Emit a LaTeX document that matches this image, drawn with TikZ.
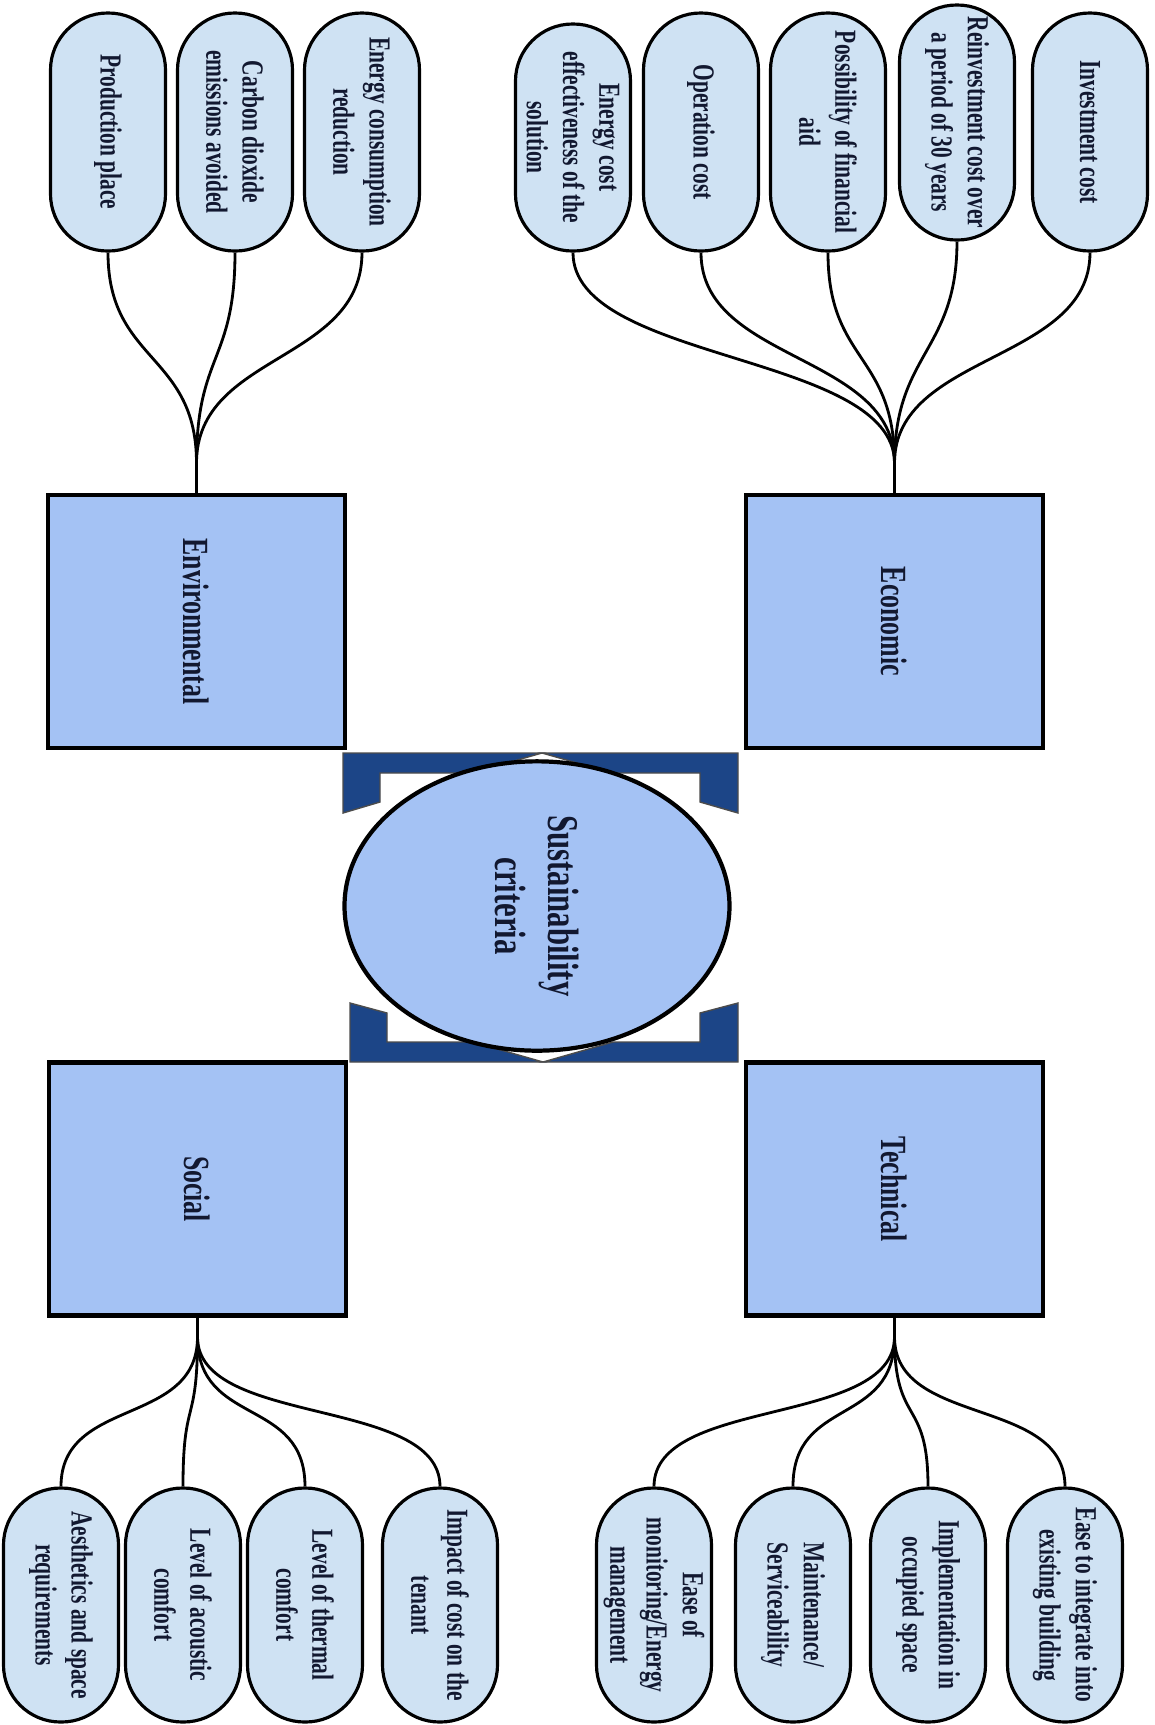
\documentclass[tikz,border=0pt]{standalone}
\usepackage{fontspec}
\setmainfont{Liberation Serif}[FakeStretch=0.7]
\usetikzlibrary{positioning,shapes.geometric}

\newcommand{\crittext}{\bfseries\fontsize{8.7}{10.3}\selectfont}
\newcommand{\dimtext}{\bfseries\fontsize{10.5}{14}\selectfont}
\newcommand{\hubtext}{\bfseries\fontsize{12.5}{15}\selectfont}

\begin{document}
\begin{tikzpicture}[
    rotate=-90,
    transform shape,
    crit/.style={
        draw=black,
        line width=0.9pt,
        fill=critfill,
        rounded corners=0.57cm,
        minimum width=2.38cm,
        minimum height=1.15cm,
        inner xsep=0pt,
        inner ysep=0pt,
        align=center,
        text=inkcol,
        font=\crittext
    },
    dimbox/.style={
        draw=black,
        line width=1.2pt,
        fill=dimfill,
        minimum width=2.53cm,
        minimum height=2.97cm,
        text=inkcol,
        font=\dimtext
    },
    link/.style={line width=0.8pt},
    bracketpart/.style={fill=brackcol, draw=black!70, line width=0.4pt}
]

% ---------------------------------
% Colors
% ---------------------------------
\definecolor{critfill}{RGB}{207,226,243}
\definecolor{dimfill}{RGB}{164,194,244}
\definecolor{brackcol}{RGB}{28,69,135}
\definecolor{inkcol}{RGB}{18,24,48}

\useasboundingbox (0,0) rectangle (17.25,11.55);

% ---------------------------------
% Centre: brackets and circle
% ---------------------------------
\fill[bracketpart] (8.13,3.43) -- (7.53,3.43) -- (7.53,5.42) -- (7.73,4.72) -- (7.73,3.80) -- (8.02,3.80) -- cycle;
\fill[bracketpart] (7.53,5.42) -- (7.53,7.38) -- (8.13,7.38) -- (8.02,7.00) -- (7.73,7.00) -- (7.73,6.12) -- cycle;
\fill[bracketpart] (10.03,3.50) -- (10.62,3.50) -- (10.62,5.43) -- (10.42,4.73) -- (10.42,3.87) -- (10.13,3.87) -- cycle;
\fill[bracketpart] (10.62,5.43) -- (10.62,7.38) -- (10.03,7.38) -- (10.13,7.00) -- (10.42,7.00) -- (10.42,6.13) -- cycle;

\node[ellipse, draw=black, line width=1.2pt, fill=dimfill, minimum width=2.72cm,
      minimum height=3.85cm, align=center, text=inkcol, font=\hubtext] (sust) at (9.06,5.37)
      {Sustainability\\criteria};

% ---------------------------------
% Dimensions
% ---------------------------------
\node[dimbox] (econ) at (6.215,8.945) {Economic};
\node[dimbox] (env)  at (6.215,1.965) {Environmental};
\node[dimbox] (tech) at (11.89,8.945) {Technical};
\node[dimbox] (soc)  at (11.89,1.975) {Social};

% ---------------------------------
% Economic criteria
% ---------------------------------
\node[crit, minimum width=2.27cm] (energycost) at (1.375,5.73) {Energy cost\\effectiveness of the\\solution};
\node[crit] (opcost)   at (1.32,7.01) {Operation cost};
\node[crit] (finaid)   at (1.32,8.28) {Possibility of financial\\aid};
\node[crit, minimum width=2.35cm] (reinvest) at (1.225,9.57) {Reinvestment cost over\\a period of 30 years};
\node[crit] (invest)   at (1.32,10.90) {Investment cost};

% ---------------------------------
% Environmental criteria
% ---------------------------------
\node[crit] (prodplace) at (1.32,1.08) {Production place};
\node[crit] (cotwo)     at (1.32,2.35) {Carbon dioxide\\emissions avoided};
\node[crit] (enred)     at (1.32,3.62) {Energy consumption\\reduction};

% ---------------------------------
% Technical criteria
% ---------------------------------
\node[crit, minimum width=2.34cm] (monit) at (16.05,6.54) {Ease of\\monitoring/Energy\\management};
\node[crit, minimum width=2.34cm] (maint) at (16.05,7.93) {Maintenance/\\Serviceability};
\node[crit, minimum width=2.34cm] (occup) at (16.05,9.28) {Implementation in\\occupied space};
\node[crit, minimum width=2.34cm] (integ) at (16.05,10.65) {Ease to integrate into\\existing building};

% ---------------------------------
% Social criteria
% ---------------------------------
\node[crit, minimum width=2.34cm] (aesth)    at (16.05,0.61) {Aesthetics and space\\requirements};
\node[crit, minimum width=2.34cm] (acoustic) at (16.05,1.83) {Level of acoustic\\comfort};
\node[crit, minimum width=2.34cm] (thermal)  at (16.05,3.05) {Level of thermal\\comfort};
\node[crit, minimum width=2.34cm] (impact)   at (16.05,4.40) {Impact of cost on the\\tenant};

% ---------------------------------
% Connectors
% ---------------------------------
\coordinate (econjoin) at (4.63,8.945);
\coordinate (envjoin)  at (4.63,1.965);
\coordinate (techjoin) at (13.37,8.945);
\coordinate (socjoin)  at (13.37,1.975);

\foreach \n in {energycost,opcost,finaid,reinvest,invest}
    \draw[link] (\n.east) .. controls +(1.1,0) and +(-1.1,0) .. (econjoin);
\foreach \n in {prodplace,cotwo,enred}
    \draw[link] (\n.east) .. controls +(1.1,0) and +(-1.1,0) .. (envjoin);
\foreach \n in {monit,maint,occup,integ}
    \draw[link] (techjoin) .. controls +(0.9,0) and +(-0.9,0) .. (\n.west);
\foreach \n in {aesth,acoustic,thermal,impact}
    \draw[link] (socjoin) .. controls +(0.9,0) and +(-0.9,0) .. (\n.west);

\draw[link] (econjoin) -- (econ.west);
\draw[link] (envjoin) -- (env.west);
\draw[link] (tech.east) -- (techjoin);
\draw[link] (soc.east) -- (socjoin);

\end{tikzpicture}
\end{document}
